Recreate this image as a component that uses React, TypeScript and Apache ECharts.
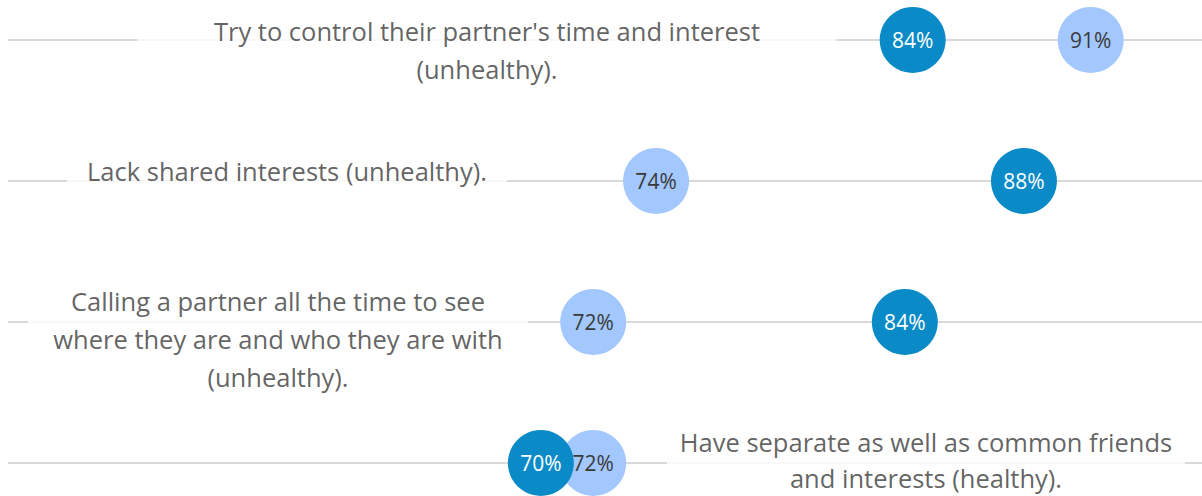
import React, { useEffect, useRef } from "react";
import * as echarts from "echarts";

const categories = [
  "Try to control their partner's time and interest\n(unhealthy).",
  "Lack shared interests (unhealthy).",
  "Calling a partner all the time to see\nwhere they are and who they are with\n(unhealthy).",
  "Have separate as well as common friends\nand interests (healthy).",
];
const darkValues = [84.2, 88.45, 83.9, 70.0];
const lightValues = [91.0, 74.4, 72.0, 72.0];

// label box layout (pixel centre x, box width, vertical offset)
const labelBoxes = [
  { cx: 487, w: 699, dy: 10, lh: 38 },
  { cx: 287, w: 440, dy: -10, lh: 38 },
  { cx: 278, w: 500, dy: 17, lh: 38 },
  { cx: 926, w: 518, dy: -3, lh: 36 },
];

const X_MIN = 49.65;
const X_MAX = 95.25;
const GRID_LEFT = 8;
const FONT = "'Open Sans', sans-serif";

export default function App() {
  const ref = useRef<HTMLDivElement>(null);
  useEffect(() => {
    if (!ref.current) return;
    const chart = echarts.init(ref.current, undefined, { renderer: "svg" });
    const labelData = categories.map((c, i) => ({
      value: [X_MIN, c],
      label: {
        width: labelBoxes[i].w,
        lineHeight: labelBoxes[i].lh,
        offset: [labelBoxes[i].cx - GRID_LEFT, labelBoxes[i].dy],
      },
    }));
    chart.setOption({
      animation: false,
      backgroundColor: "#ffffff",
      grid: { left: GRID_LEFT, right: 0, top: 40, bottom: 33, outerBoundsMode: "none" },
      xAxis: {
        type: "value",
        min: X_MIN,
        max: X_MAX,
        show: false,
        splitLine: { show: false },
      },
      yAxis: {
        type: "category",
        data: categories,
        inverse: true,
        boundaryGap: false,
        axisLine: { show: false },
        axisTick: { show: false },
        axisLabel: { show: false },
        splitLine: { show: true, interval: 0, lineStyle: { color: "#D9D9D9", width: 2 } },
      },
      series: [
        {
          name: "Labels",
          type: "scatter",
          z: 1,
          symbolSize: 0,
          silent: true,
          data: labelData,
          label: {
            show: true,
            position: "inside",
            formatter: (p: any) => p.value[1],
            color: "#3A3A3A",
            fontFamily: FONT,
            fontSize: 25.5,
            lineHeight: 38,
            align: "center",
            backgroundColor: "#ffffff",
          },
        },
        {
          name: "Series B",
          type: "scatter",
          z: 2,
          symbolSize: 66,
          itemStyle: { color: "#A3C7FF", opacity: 1 },
          data: lightValues.map((v, i) => [v, categories[i]]),
          label: {
            show: true,
            position: "inside",
            formatter: (p: any) => Math.round(p.value[0]) + "%",
            color: "#3A3A3A",
            fontFamily: FONT,
            fontSize: 21,
          },
        },
        {
          name: "Series A",
          type: "scatter",
          z: 3,
          symbolSize: 66,
          itemStyle: { color: "#0A8BC8", opacity: 1 },
          data: darkValues.map((v, i) => [v, categories[i]]),
          label: {
            show: true,
            position: "inside",
            formatter: (p: any) => Math.round(p.value[0]) + "%",
            color: "#ffffff",
            fontFamily: FONT,
            fontSize: 21,
          },
        },
      ],
    });
    return () => chart.dispose();
  }, []);
  return (
    <div
      ref={ref}
      style={{ position: "fixed", left: 0, top: 0, width: 1202, height: 496 }}
    />
  );
}
